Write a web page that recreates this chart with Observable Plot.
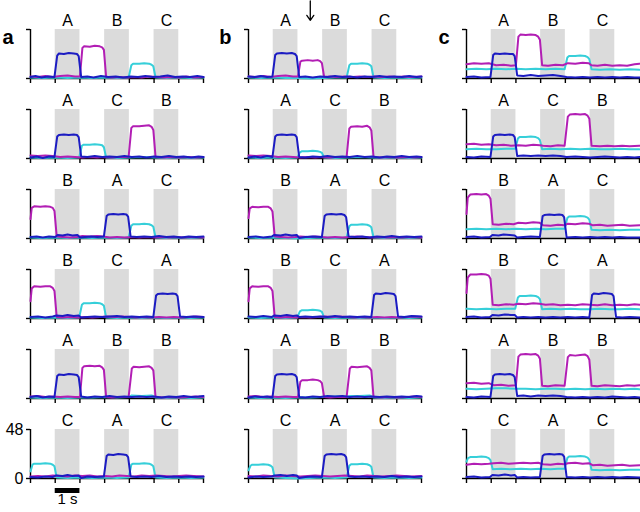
<!DOCTYPE html>
<html><head><meta charset="utf-8">
<script src="https://cdn.jsdelivr.net/npm/d3@7"></script>
<script src="https://cdn.jsdelivr.net/npm/@observablehq/plot@0.6"></script>
<style>
html,body{margin:0;padding:0;background:#fff;}
#chart{width:640px;height:512px;overflow:hidden;}
</style></head><body><div id="chart"></div>
<script>
const columns = ["a","b","c"];
const rows = [1,2,3,4,5,6];
const stimulusLabels = [["A","B","C"],["A","C","B"],["B","A","C"],["B","C","A"],["A","B","B"],["C","A","C"]];
const grayWindows = [[1,2],[3,4],[5,6]];
const xTicks = [0,1,2,3,4,5,6,7];
const yTicks = [0,48];
const seriesNames = ["cell 3","cell 2","cell 1"];
const seriesColors = ["#36cfd9","#b21eb4","#1c1cc2"];
const scaleBar = [{col:"a", row:6, x1:1, x2:2, label:"1 s"}];
const cueArrow = [{col:"b", row:1, t:2.5}];

// ---- column a ----
const blueA = [
 [[0,1.5],[0.2,2.5],[0.45,1],[0.7,2],[0.97,1.5],[1.08,22.5],[1.15,24.5],[1.35,24],[1.55,25],[1.75,24.5],[1.88,24],[1.95,22],[2.05,1.5],[2.3,2],[2.55,1],[2.85,2.5],[3.15,1.5],[3.45,2],[3.75,1],[4.05,2],[4.35,1.5],[4.65,2.5],[4.95,1.5],[5.25,2],[5.55,3],[5.85,1.5],[6.15,2],[6.45,1.5],[6.75,2.5],[7,1.5]],
 [[0,1],[0.25,2],[0.5,0.5],[0.75,2],[0.97,1.5],[1.08,21.5],[1.15,23],[1.35,23.5],[1.55,23],[1.75,23.5],[1.88,23],[1.95,21],[2.05,2],[2.3,1.5],[2.6,2.5],[2.9,1.5],[3.2,2],[3.5,1.5],[3.8,2.5],[4.1,1.5],[4.4,2],[4.7,1],[5,2],[5.3,1.5],[5.6,2.5],[5.9,1.5],[6.2,2],[6.5,1],[6.8,2],[7,1.5]],
 [[0,1.5],[0.25,2],[0.5,1],[0.75,2],[1.0,1.5],[1.1,3.5],[1.3,3],[1.5,4],[1.7,3],[1.9,3.5],[2.0,1],[2.2,1.5],[2.45,2],[2.7,1.5],[2.97,2],[3.08,22],[3.15,23.5],[3.35,24],[3.55,23.5],[3.75,24],[3.88,23.5],[3.95,21.5],[4.05,2],[4.3,1.5],[4.6,2],[4.9,1.5],[5.2,2.5],[5.5,1.5],[5.8,2],[6.1,1],[6.4,2],[6.7,1.5],[7,2]],
 [[0,1.5],[0.3,2],[0.6,1],[0.9,2],[1.05,3],[1.3,2.5],[1.5,3.5],[1.75,2.5],[1.95,3],[2.05,1],[2.3,1.5],[2.6,2],[2.9,1.5],[3.2,2],[3.5,2.5],[3.8,1.5],[4.1,2],[4.4,1.5],[4.7,2],[4.97,1.5],[5.08,22.5],[5.15,24],[5.35,24.5],[5.55,24],[5.75,24.5],[5.88,24],[5.95,22],[6.05,2],[6.3,1.5],[6.6,2],[7,1.5]],
 [[0,1.5],[0.25,2.5],[0.5,1],[0.75,2],[0.97,1.5],[1.08,22],[1.15,23.5],[1.35,23],[1.55,24],[1.75,23.5],[1.88,23],[1.95,21],[2.05,2],[2.3,1],[2.6,2],[2.9,1.5],[3.2,2.5],[3.5,1.5],[3.8,2],[4.1,1.5],[4.4,2],[4.7,1.5],[5,2],[5.3,1],[5.6,2],[5.9,1.5],[6.2,2.5],[6.5,1.5],[6.8,2],[7,2.5]],
 [[0,1.5],[0.3,1],[0.6,2],[0.9,1.5],[1.05,3],[1.3,2.5],[1.5,3.5],[1.7,2.5],[1.95,3],[2.05,0.5],[2.3,2],[2.6,1.5],[2.97,2],[3.08,22],[3.15,23.5],[3.35,23],[3.55,24],[3.75,23.5],[3.88,23],[3.95,21],[4.05,2],[4.3,1.5],[4.6,2],[4.9,1.5],[5.2,2.5],[5.5,1.5],[5.8,2],[6.1,1.5],[6.4,2],[6.7,1.5],[7,2]]
];
const magentaA = [
 [[0,2],[0.3,1.5],[0.6,2.5],[0.9,1.5],[1.2,2.5],[1.5,3],[1.8,2],[2.0,2],[2.1,30],[2.17,31.5],[2.4,31],[2.6,32],[2.8,31.5],[2.9,30.5],[2.97,28],[3.06,1.5],[3.3,1],[3.6,1.5],[3.9,1],[4.2,1.5],[4.5,1],[4.8,2],[5.1,1.5],[5.4,1],[5.7,1.5],[6,1],[6.3,2],[6.6,1],[7,1.5]],
 [[0,3],[0.3,2.5],[0.6,3],[0.9,2.5],[1.2,1.5],[1.5,2],[1.8,1.5],[2.1,1],[2.4,1.5],[2.7,1],[3,1.5],[3.3,1],[3.6,1.5],[3.97,1.5],[4.08,30],[4.15,31.5],[4.4,31.5],[4.6,32],[4.8,32.5],[4.9,31],[4.97,28],[5.06,1.5],[5.4,1],[5.7,1.5],[6,1],[6.4,1.5],[6.7,1],[7,1.5]],
 [[0,19],[0.05,30],[0.15,31.5],[0.4,31],[0.6,31.5],[0.8,31],[0.9,30],[0.97,27],[1.06,2],[1.3,1.5],[1.6,1],[1.9,1.5],[2.1,2.5],[2.4,2],[2.7,2.5],[2.95,2],[3.2,1],[3.5,1.5],[3.8,1],[4.1,1.5],[4.4,1],[4.7,1.5],[5,1],[5.3,1.5],[5.6,1],[5.9,1.5],[6.2,1],[6.5,1.5],[7,1]],
 [[0,17],[0.05,29.5],[0.15,31.5],[0.4,31],[0.6,31.5],[0.8,31.5],[0.9,30],[0.97,27],[1.06,1.5],[1.3,1],[1.6,1.5],[1.9,1],[2.2,1.5],[2.5,1],[2.8,1.5],[3.1,2],[3.4,1.5],[3.7,2],[4,1.5],[4.3,1],[4.6,1.5],[4.9,1],[5.2,1.5],[5.5,1],[5.8,1.5],[6.1,1],[6.4,1.5],[6.7,2],[7,1.5]],
 [[0,2],[0.3,2.5],[0.6,1.5],[0.9,2],[1.2,1.5],[1.5,2],[1.8,1.5],[2.0,1.5],[2.1,30],[2.17,31.5],[2.4,32],[2.6,31.5],[2.8,32],[2.9,30.5],[2.97,28],[3.06,1.5],[3.3,1],[3.6,1.5],[3.97,1.5],[4.1,29.5],[4.17,31],[4.4,30.5],[4.6,31],[4.8,31.5],[4.9,30],[4.97,27.5],[5.06,1.5],[5.4,1],[5.7,1.5],[6,1],[6.4,1.5],[6.7,2],[7,1.5]],
 [[0,2],[0.3,2.5],[0.6,2],[0.9,3],[1.2,2.5],[1.5,2],[1.8,3],[2.1,2.5],[2.4,3],[2.7,2],[3,2.5],[3.3,2],[3.6,3],[3.9,2.5],[4.2,2],[4.5,3],[4.8,2.5],[5.1,3],[5.4,2.5],[5.7,2],[6,2.5],[6.3,3],[6.6,2.5],[7,2]]
];
const cyanA = [
 [[0,1],[0.5,0.5],[1,1],[1.5,0.5],[2,1],[2.5,0.5],[3,1],[3.5,0.5],[3.97,1],[4.08,13],[4.15,14.5],[4.4,14.5],[4.6,15],[4.8,14.5],[4.9,13.5],[4.97,12],[5.06,1],[5.5,0.5],[6,1],[6.5,0.5],[7,1]],
 [[0,1],[0.5,0.5],[1,1],[1.5,0.5],[1.97,1],[2.08,12.5],[2.15,13.5],[2.4,13.5],[2.6,14],[2.8,13.5],[2.9,13],[2.97,11],[3.06,1],[3.5,0.5],[4,1],[4.5,1.5],[5,1],[5.5,0.5],[6,1],[6.5,0.5],[7,1]],
 [[0,1],[0.5,0.5],[1,1],[1.5,0.5],[2,1],[2.5,0.5],[3,1],[3.5,0.5],[3.97,1],[4.08,12.5],[4.15,14],[4.4,14],[4.6,14.5],[4.8,14],[4.9,13],[4.97,11.5],[5.06,1],[5.5,0.5],[6,1],[6.5,0.5],[7,1]],
 [[0,1],[0.5,0.5],[1,1],[1.5,0.5],[1.97,1],[2.08,13.5],[2.15,15],[2.4,15],[2.6,15.5],[2.8,15],[2.9,14],[2.97,12.5],[3.06,1],[3.5,0.5],[4,1],[4.5,0.5],[5,1],[5.5,0.5],[6,1],[6.5,0.5],[7,1]],
 [[0,1],[0.5,0.5],[1,1],[1.5,0.5],[2,1],[2.5,1],[3,1.5],[3.5,1],[4,1.5],[4.1,3],[4.5,2.5],[4.9,3],[5.05,1],[5.5,0.5],[6,1],[6.5,0.5],[7,1]],
 [[0,7],[0.08,13.5],[0.15,14.5],[0.4,14.5],[0.6,15],[0.8,14.5],[0.9,13.5],[0.97,12],[1.06,1],[1.5,0.5],[2,1],[2.5,0.5],[3,1],[3.5,0.5],[3.97,1],[4.08,13.5],[4.15,14.5],[4.4,14.5],[4.6,15],[4.8,14.5],[4.9,13.5],[4.97,12],[5.06,1],[5.5,0.5],[6,1],[6.5,0.5],[7,1]]
];

// ---- column b ----
const blueB = [
 [[0,2],[0.25,1.5],[0.5,2.5],[0.75,1.5],[0.97,2],[1.08,23],[1.15,24.5],[1.35,25],[1.55,24.5],[1.75,25],[1.88,24],[1.95,22],[2.05,1.5],[2.3,2],[2.6,1],[2.9,2],[3.2,1.5],[3.5,2.5],[3.8,1.5],[4.1,2],[4.4,1],[4.7,2],[5,1.5],[5.3,2.5],[5.6,1.5],[5.9,2],[6.2,1.5],[6.5,2.5],[6.8,1.5],[7,2]],
 [[0,1],[0.25,2],[0.5,1],[0.75,2.5],[0.97,1.5],[1.08,21.5],[1.15,23],[1.35,23.5],[1.55,23],[1.75,23.5],[1.88,23],[1.95,21],[2.05,1.5],[2.3,1],[2.6,2],[2.9,1.5],[3.2,2.5],[3.5,1.5],[3.8,2],[4.1,1.5],[4.4,2.5],[4.7,1.5],[5,2],[5.3,1],[5.6,2],[5.9,1.5],[6.2,2.5],[6.5,1.5],[6.8,2],[7,1.5]],
 [[0,1.5],[0.3,2],[0.6,1],[0.95,2],[1.05,3.5],[1.3,3],[1.5,4],[1.75,3],[1.95,3.5],[2.05,0.5],[2.3,1.5],[2.6,2],[2.97,1.5],[3.08,22],[3.15,23.5],[3.35,24],[3.55,23.5],[3.75,24],[3.88,23],[3.95,21],[4.05,2],[4.3,1.5],[4.6,2],[4.9,1],[5.2,2],[5.5,1.5],[5.8,2.5],[6.1,1.5],[6.4,2],[6.7,1.5],[7,2]],
 [[0,2],[0.3,1.5],[0.6,2.5],[0.95,1.5],[1.05,3],[1.3,2.5],[1.55,3.5],[1.8,2.5],[1.95,3],[2.05,1.5],[2.3,2],[2.6,1.5],[2.9,2],[3.2,1.5],[3.5,2.5],[3.8,1.5],[4.1,2],[4.4,1.5],[4.7,2],[4.97,1.5],[5.08,23],[5.15,24.5],[5.35,24],[5.55,25],[5.75,24.5],[5.88,24],[5.95,22],[6.05,2],[6.3,1.5],[6.6,2.5],[7,2]],
 [[0,1],[0.25,2],[0.5,1.5],[0.75,2],[0.97,1],[1.08,22],[1.15,23.5],[1.35,24],[1.55,23.5],[1.75,24],[1.88,23],[1.95,21],[2.05,1.5],[2.3,1],[2.6,2],[2.9,1.5],[3.2,2.5],[3.5,2],[3.8,2.5],[4.1,1.5],[4.4,2],[4.7,1.5],[5,2],[5.3,1.5],[5.6,2],[5.9,1.5],[6.2,2],[6.5,1.5],[6.8,2.5],[7,2]],
 [[0,1],[0.3,2],[0.6,1.5],[0.95,2],[1.05,3],[1.3,3.5],[1.55,2.5],[1.8,3.5],[1.95,3],[2.05,0.5],[2.3,1.5],[2.6,2],[2.97,1.5],[3.08,22],[3.15,23.5],[3.35,24],[3.55,23.5],[3.75,24],[3.88,23],[3.95,21],[4.05,2],[4.3,1.5],[4.6,2],[4.9,1.5],[5.2,2],[5.5,1.5],[5.8,2.5],[6.1,1.5],[6.4,2],[6.7,1.5],[7,2]]
];
const magentaB = [
 [[0,2],[0.3,1.5],[0.6,2.5],[0.9,1.5],[1.2,2.5],[1.5,3],[1.8,2],[2.0,2],[2.1,16.5],[2.17,17.5],[2.4,18],[2.6,17.5],[2.8,18],[2.9,17],[2.97,15],[3.06,1.5],[3.3,2],[3.6,1.5],[3.9,2],[4.2,1.5],[4.5,2],[4.8,1.5],[5.1,2],[5.4,1.5],[5.7,2],[6,1.5],[6.3,2],[6.6,1.5],[7,2]],
 [[0,3],[0.3,2.5],[0.6,3],[0.9,2.5],[1.2,1.5],[1.5,2],[1.8,1.5],[2.1,1],[2.4,1.5],[2.7,1],[3,1.5],[3.3,1],[3.6,1.5],[3.97,1.5],[4.08,29.5],[4.15,31],[4.4,31.5],[4.6,31],[4.8,32],[4.9,30.5],[4.97,27.5],[5.06,1.5],[5.4,1],[5.7,1.5],[6,1],[6.4,1.5],[6.7,1],[7,1.5]],
 [[0,20],[0.05,29.5],[0.15,31],[0.4,30.5],[0.6,31],[0.8,31],[0.9,29.5],[0.97,26.5],[1.06,2],[1.3,1.5],[1.6,1],[1.9,1.5],[2.1,2],[2.4,1.5],[2.7,2],[2.95,1.5],[3.2,1],[3.5,1.5],[3.8,1],[4.1,1.5],[4.4,2],[4.7,1.5],[5,1],[5.3,1.5],[5.6,1],[5.9,1.5],[6.2,1],[6.5,1.5],[7,1]],
 [[0,17],[0.05,29.5],[0.15,31.5],[0.4,31],[0.6,31.5],[0.8,31.5],[0.9,30],[0.97,27],[1.06,1.5],[1.3,1],[1.6,1.5],[1.9,1],[2.2,1.5],[2.5,1],[2.8,1.5],[3.1,2],[3.4,1.5],[3.7,2],[4,1.5],[4.3,1],[4.6,1.5],[4.9,1],[5.2,1.5],[5.5,1],[5.8,1.5],[6.1,1],[6.4,1.5],[6.7,2],[7,1.5]],
 [[0,2],[0.3,2.5],[0.6,1.5],[0.9,2],[1.2,1.5],[1.5,2],[1.8,1.5],[2.0,1.5],[2.1,16.5],[2.17,18],[2.4,18],[2.6,18.5],[2.8,18],[2.9,17],[2.97,15],[3.06,1.5],[3.3,1],[3.6,1.5],[3.97,1.5],[4.1,29.5],[4.17,31],[4.4,30.5],[4.6,31],[4.8,31.5],[4.9,30],[4.97,27.5],[5.06,1.5],[5.4,1],[5.7,1.5],[6,1],[6.4,1.5],[6.7,2],[7,1.5]],
 [[0,2.5],[0.3,2],[0.6,3],[0.9,2.5],[1.2,2],[1.5,3],[1.8,2.5],[2.1,2],[2.4,2.5],[2.7,3],[3,2.5],[3.3,2],[3.6,2.5],[3.9,3],[4.2,2.5],[4.5,2],[4.8,3],[5.1,2.5],[5.4,2],[5.7,2.5],[6,3],[6.3,2.5],[6.6,2],[7,2.5]]
];
const cyanB = [
 [[0,1],[0.5,0.5],[1,1],[1.5,0.5],[2,0.5],[2.5,0],[3,0.5],[3.5,1],[3.97,1],[4.08,13],[4.15,14.5],[4.4,14.5],[4.6,15],[4.8,14.5],[4.9,13.5],[4.97,12],[5.06,1],[5.5,0.5],[6,1],[6.5,0.5],[7,1]],
 [[0,1],[0.5,0.5],[1,1],[1.5,0.5],[1.97,1],[2.08,6],[2.15,7],[2.4,7],[2.6,7.5],[2.8,7],[2.9,6.5],[2.97,5.5],[3.06,1],[3.5,0.5],[4,1],[4.5,1.5],[5,1],[5.5,0.5],[6,1],[6.5,0.5],[7,1]],
 [[0,1],[0.5,0.5],[1,1],[1.5,0.5],[2,0],[2.5,0.5],[3,1],[3.5,0.5],[3.97,1],[4.08,12],[4.15,13.5],[4.4,13.5],[4.6,14],[4.8,13.5],[4.9,12.5],[4.97,11],[5.06,1],[5.5,0.5],[6,1],[6.5,0.5],[7,1]],
 [[0,1],[0.5,0.5],[1,1],[1.5,0.5],[1.97,1],[2.08,7],[2.15,8],[2.4,8],[2.6,8.5],[2.8,8],[2.9,7.5],[2.97,6.5],[3.06,1],[3.5,0.5],[4,1],[4.5,0.5],[5,1],[5.5,0.5],[6,1],[6.5,0.5],[7,1]],
 [[0,1],[0.5,0.5],[1,1],[1.5,0.5],[2,1],[2.5,1],[3,1.5],[3.5,2],[4,2],[4.1,2.5],[4.5,2.5],[4.9,3],[5.05,1],[5.5,0.5],[6,1],[6.5,0.5],[7,1]],
 [[0,8],[0.08,12.5],[0.15,13.5],[0.4,13.5],[0.6,14],[0.8,13.5],[0.9,12.5],[0.97,11],[1.06,1],[1.5,0.5],[2,0],[2.5,0.5],[3,1],[3.5,0.5],[3.97,1],[4.08,12.5],[4.15,14],[4.4,14],[4.6,14.5],[4.8,14],[4.9,13],[4.97,11.5],[5.06,1],[5.5,0.5],[6,1],[6.5,0.5],[7,1]]
];

// ---- column c ----
const blueC = [
 [[0,1.5],[0.3,2],[0.6,1],[0.97,1.5],[1.08,23],[1.15,24.5],[1.35,24],[1.55,24.5],[1.75,24],[1.88,24],[1.95,22],[2.05,3],[2.3,2.5],[2.6,3.5],[2.9,2.5],[3.2,3],[3.5,3.5],[3.8,2.5],[4.05,1.5],[4.4,1],[4.7,1.5],[5,1],[5.3,1.5],[5.6,1],[5.9,1.5],[6.2,1],[6.5,1.5],[6.8,1],[7,1]],
 [[0,1.5],[0.3,1],[0.6,2],[0.97,1.5],[1.08,21.5],[1.15,23],[1.35,23.5],[1.55,23],[1.75,23.5],[1.88,23],[1.95,21],[2.05,2.5],[2.3,3],[2.6,2.5],[2.9,3],[3.2,2.5],[3.5,3],[3.8,2.5],[4.05,1.5],[4.4,2],[4.7,1.5],[5,1],[5.3,1.5],[5.6,2],[5.9,1.5],[6.2,1],[6.5,1.5],[6.8,1],[7,1.5]],
 [[0,1.5],[0.3,2],[0.6,1],[0.95,1.5],[1.05,3.5],[1.3,3],[1.5,4],[1.75,3.5],[1.95,3],[2.05,1],[2.3,1.5],[2.6,2],[2.97,1.5],[3.08,22],[3.15,23],[3.35,23.5],[3.55,23],[3.75,23.5],[3.88,23],[3.95,21],[4.05,1],[4.4,1.5],[4.7,1],[5,1.5],[5.3,1],[5.6,1.5],[5.9,1],[6.2,1.5],[6.5,1],[7,1]],
 [[0,1.5],[0.3,2],[0.6,1],[0.95,1.5],[1.05,3.5],[1.3,3],[1.55,4],[1.8,3.5],[1.95,3.5],[2.05,1],[2.3,1.5],[2.6,1],[2.9,1.5],[3.2,1],[3.5,1.5],[3.8,1],[4.1,1.5],[4.4,1],[4.7,1.5],[4.97,1],[5.08,23],[5.15,24.5],[5.35,24],[5.55,25],[5.75,24.5],[5.88,24],[5.95,22],[6.05,1.5],[6.3,1],[6.6,1.5],[7,1]],
 [[0,1.5],[0.3,1],[0.6,2],[0.97,1.5],[1.08,22],[1.15,23.5],[1.35,24],[1.55,23.5],[1.75,24],[1.88,23],[1.95,21],[2.05,2.5],[2.3,3],[2.6,2],[2.9,3],[3.2,2.5],[3.5,3],[3.8,2.5],[4.05,1.5],[4.4,1],[4.7,1.5],[5,1],[5.3,1.5],[5.6,1],[5.9,2],[6.2,1.5],[6.5,1],[6.8,1.5],[7,1]],
 [[0,1.5],[0.3,2],[0.6,1],[0.95,1.5],[1.05,3.5],[1.3,3],[1.55,4],[1.8,3],[1.95,3.5],[2.05,1],[2.3,1.5],[2.6,1],[2.97,1.5],[3.08,22],[3.15,23.5],[3.35,24],[3.55,23.5],[3.75,24],[3.88,23.5],[3.95,21.5],[4.05,1.5],[4.4,1],[4.7,1.5],[5,1],[5.3,1.5],[5.6,1],[5.9,1.5],[6.2,1],[6.5,1.5],[7,1]]
];
const magentaC = [
 [[0,14],[0.3,15],[0.6,14.5],[0.9,15],[1.2,13],[1.5,13.5],[1.8,12.5],[2.0,13],[2.1,41],[2.18,43],[2.4,42.5],[2.6,43],[2.8,42.5],[2.9,41],[2.97,38],[3.06,13],[3.3,12.5],[3.6,13.5],[3.9,13],[4.1,15],[4.4,14.5],[4.7,15.5],[4.95,15],[5.05,13],[5.3,12.5],[5.6,13.5],[5.9,12.5],[6.2,13],[6.5,12.5],[6.8,14],[7,14.5]],
 [[0,14],[0.3,14.5],[0.6,13.5],[0.9,14],[1.2,13],[1.5,13.5],[1.8,12.5],[2.1,13],[2.4,12.5],[2.7,13.5],[2.97,13],[3.1,12.5],[3.4,12],[3.7,13],[3.97,12.5],[4.1,41],[4.18,43],[4.4,43.5],[4.6,43],[4.8,43.5],[4.9,42],[4.97,39],[5.06,12.5],[5.4,12],[5.7,12.5],[6,12],[6.3,12.5],[6.6,12],[7,12.5]],
 [[0,24],[0.05,40],[0.15,43],[0.4,43.5],[0.6,43],[0.8,43.5],[0.9,42],[0.97,39],[1.06,14],[1.3,13.5],[1.6,14.5],[1.9,14],[2.1,15.5],[2.4,15],[2.7,16],[2.95,15.5],[3.1,13],[3.4,12.5],[3.7,13.5],[3.97,13],[4.1,14.5],[4.4,14],[4.7,15],[4.95,14.5],[5.1,13],[5.4,13.5],[5.7,12.5],[6,13],[6.3,13.5],[6.6,12.5],[7,13]],
 [[0,25],[0.05,40],[0.15,43],[0.4,43],[0.6,43.5],[0.8,43],[0.9,42],[0.97,39],[1.06,13.5],[1.3,13],[1.6,14],[1.9,13.5],[2.1,14.5],[2.4,14],[2.7,15],[2.95,14.5],[3.2,13.5],[3.5,14],[3.8,13],[4.1,13.5],[4.4,13],[4.7,14],[5,13.5],[5.3,13],[5.6,14],[5.9,13],[6.2,13.5],[6.5,13],[6.8,14],[7,13.5]],
 [[0,15],[0.3,15.5],[0.6,14.5],[0.9,15],[1.1,13],[1.4,13.5],[1.7,12.5],[2.0,13],[2.1,41],[2.18,43],[2.4,43.5],[2.6,43],[2.8,43.5],[2.9,42],[2.97,39],[3.06,12.5],[3.3,12],[3.6,13],[3.97,12.5],[4.1,40.5],[4.18,42.5],[4.4,42],[4.6,42.5],[4.8,43],[4.9,41.5],[4.97,38],[5.06,12.5],[5.3,12],[5.6,13],[5.9,12.5],[6.2,12],[6.5,13],[6.8,12.5],[7,13]],
 [[0,13.5],[0.3,14.5],[0.6,14],[0.9,14.5],[1.1,15],[1.4,15.5],[1.7,14.5],[2.0,15],[2.3,15.5],[2.6,15],[2.9,15.5],[3.1,14],[3.4,13.5],[3.7,14.5],[3.97,14],[4.1,15],[4.4,15.5],[4.7,14.5],[4.95,15],[5.1,13],[5.4,13.5],[5.7,12.5],[6,13],[6.3,13.5],[6.6,12.5],[7,13]]
];
const cyanC = [
 [[0,9],[0.4,9.5],[0.8,9],[1.2,9.5],[1.6,9],[2,9.5],[2.4,9],[2.8,9.5],[3.2,9],[3.6,9.5],[3.97,9],[4.08,20.5],[4.15,22],[4.4,22],[4.6,22.5],[4.8,22],[4.9,21],[4.97,19],[5.06,9],[5.4,8.5],[5.8,9],[6.2,8.5],[6.6,9],[7,8.5]],
 [[0,9],[0.4,9.5],[0.8,9],[1.2,9],[1.6,9.5],[1.97,9.5],[2.08,19.5],[2.15,21],[2.4,21],[2.6,21.5],[2.8,21],[2.9,20],[2.97,18],[3.06,9],[3.4,9.5],[3.8,9],[4.2,9.5],[4.6,9],[5,9.5],[5.4,9],[5.8,9],[6.2,9.5],[6.6,9],[7,9]],
 [[0,9],[0.4,9.5],[0.8,9],[1.2,9.5],[1.6,9],[2,9.5],[2.4,9],[2.8,9.5],[3.2,9],[3.6,9.5],[3.97,9.5],[4.08,20],[4.15,21.5],[4.4,21.5],[4.6,22],[4.8,21.5],[4.9,20.5],[4.97,18.5],[5.06,8.5],[5.4,8],[5.8,8.5],[6.2,8],[6.6,8.5],[7,8.5]],
 [[0,9.5],[0.4,9],[0.8,9.5],[1.2,9],[1.6,9.5],[1.97,9.5],[2.08,20.5],[2.15,22],[2.4,22],[2.6,22.5],[2.8,22],[2.9,21],[2.97,19],[3.06,9],[3.4,9.5],[3.8,9],[4.2,9.5],[4.6,9],[5,9],[5.4,9.5],[5.8,9],[6.2,9],[6.6,9.5],[7,9]],
 [[0,9.5],[0.4,9],[0.8,9.5],[1.2,10],[1.6,10],[2,9.5],[2.4,9.5],[2.8,9],[3.2,9.5],[3.6,9.5],[4,9],[4.4,9.5],[4.8,9],[5.2,9.5],[5.6,9],[6,9.5],[6.4,9],[6.8,9.5],[7,9]],
 [[0,16.5],[0.06,20],[0.15,21],[0.4,21],[0.6,21.5],[0.8,21],[0.9,20],[0.97,18],[1.06,9],[1.4,9.5],[1.8,9],[2.2,9.5],[2.6,9],[3,9.5],[3.4,9],[3.7,9.5],[3.97,9.5],[4.08,20],[4.15,21.5],[4.4,21.5],[4.6,22],[4.8,21.5],[4.9,20.5],[4.97,18.5],[5.06,8.5],[5.4,8],[5.8,8.5],[6.2,8],[6.6,8.5],[7,8.5]]
];

// ---- assemble tables ----
const seriesByColumn = [[cyanA, magentaA, blueA],[cyanB, magentaB, blueB],[cyanC, magentaC, blueC]];
const traceTable = [];
columns.forEach((col, ci) => seriesNames.forEach((name, si) =>
  seriesByColumn[ci][si].forEach((pts, ri) => pts.forEach(([t, v]) =>
    traceTable.push({col, row: rows[ri], series: name, t, v})))));

const labelTable = [];
columns.forEach(col => rows.forEach((row, ri) => grayWindows.forEach((w, wi) =>
  labelTable.push({col, row, mid: (w[0] + w[1]) / 2, label: stimulusLabels[ri][wi]}))));

const panelTable = columns.map(col => ({col, row: rows[0]}));
const yLabelTable = yTicks.map(v => ({col: columns[0], row: rows[rows.length - 1], v}));

const chart = Plot.plot({
  width: 640, height: 512,
  marginTop: 29, marginBottom: 34, marginLeft: 29, marginRight: 1,
  x: {domain: [xTicks[0], xTicks[xTicks.length - 1]], axis: null},
  y: {domain: yTicks, axis: null},
  fx: {domain: columns, axis: null, paddingInner: 0.208, paddingOuter: 0},
  fy: {domain: rows, axis: null, paddingInner: 0.3875, paddingOuter: 0},
  color: {type: "ordinal", domain: seriesNames, range: seriesColors},
  style: {fontFamily: "'Liberation Sans', Arial, sans-serif", fontSize: "16px", color: "black", background: "white", overflow: "visible"},
  marks: [
    Plot.rect(grayWindows, {x1: d => d[0], x2: d => d[1], y1: yTicks[0], y2: yTicks[1], fill: "#dbdbdb"}),
    Plot.ruleY([yTicks[0]], {stroke: "black", strokeWidth: 1.4}),
    Plot.ruleX([xTicks[0]], {stroke: "black", strokeWidth: 1.4}),
    Plot.ruleX(xTicks, {x: d => d, y1: yTicks[0], y2: yTicks[0], insetBottom: -5, stroke: "black", strokeWidth: 1.4}),
    Plot.ruleY(yTicks, {y: d => d, x1: xTicks[0], x2: xTicks[0], insetLeft: -4, stroke: "black", strokeWidth: 1.4}),
    Plot.line(traceTable, {fx: "col", fy: "row", x: "t", y: "v", z: "series", stroke: "series", strokeWidth: 2, strokeLinejoin: "round", strokeLinecap: "round"}),
    Plot.text(labelTable, {fx: "col", fy: "row", x: "mid", y: yTicks[1], text: "label", lineAnchor: "bottom", dy: -3.5, fontSize: 16}),
    Plot.text(panelTable, {fx: "col", fy: "row", x: xTicks[0], y: yTicks[1], text: "col", textAnchor: "end", lineAnchor: "bottom", dx: -17, dy: 14, fontSize: 20, fontWeight: "bold"}),
    Plot.text(yLabelTable, {fx: "col", fy: "row", x: xTicks[0], y: "v", text: d => String(d.v), textAnchor: "end", dx: -7, fontSize: 16}),
    Plot.ruleY(scaleBar, {fx: "col", fy: "row", x1: "x1", x2: "x2", y: yTicks[0], dy: 12, stroke: "black", strokeWidth: 5}),
    Plot.text(scaleBar, {fx: "col", fy: "row", x: d => (d.x1 + d.x2) / 2, y: yTicks[0], text: "label", dy: 21, fontSize: 15}),
    Plot.arrow(cueArrow, {fx: "col", fy: "row", x1: "t", x2: "t", y1: 76, y2: 57, stroke: "black", strokeWidth: 1.3, headLength: 7, headAngle: 70})
  ]
});
document.getElementById("chart").appendChild(chart);
</script>
</body></html>
